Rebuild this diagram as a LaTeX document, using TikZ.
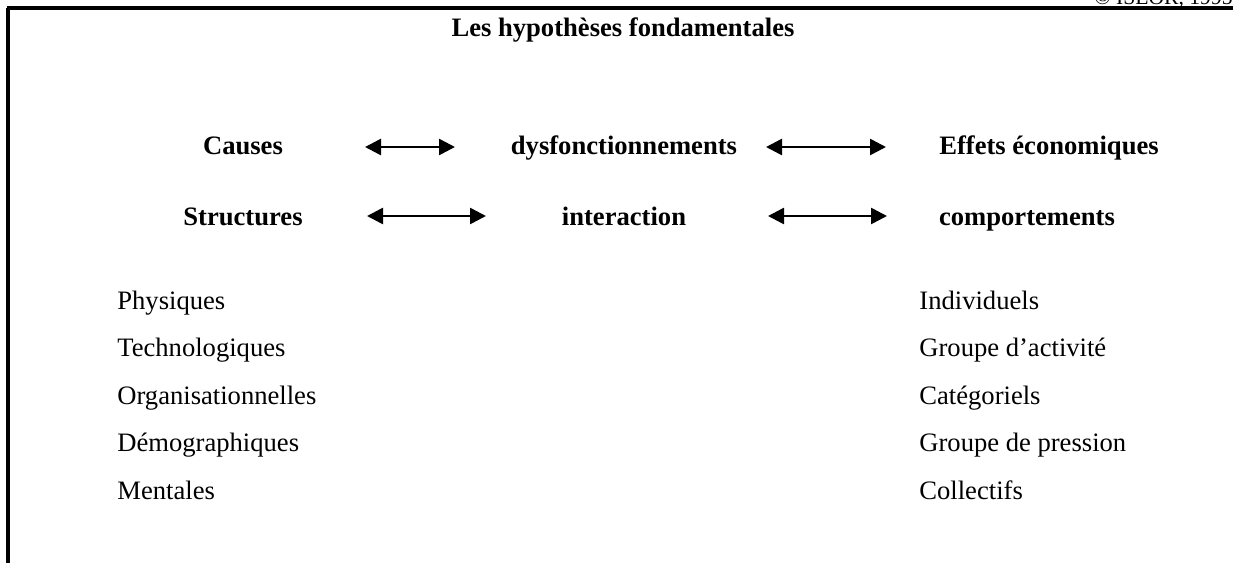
\documentclass[tikz,border=0pt]{standalone}
\usepackage{fontspec}
\setmainfont{Liberation Serif}
\usetikzlibrary{arrows.meta}

\begin{document}
\begin{tikzpicture}[
		x=0.5pt, y=-0.5pt,
		>={Triangle[length=8pt,width=8pt]},
		link/.style={line width=1.3pt,<->},
		head/.style={font=\fontsize{13.3}{16}\selectfont\bfseries, inner sep=0pt, anchor=base},
		item/.style={font=\fontsize{13.3}{16}\selectfont, inner sep=0pt, anchor=base west},
		frame/.style={line width=1.6pt}
	]
		\useasboundingbox (0,0) rectangle (1233,563);

		%frame
		\draw[frame] (7,8) -- (1233,8);
		\draw[frame] (8,8) -- (8,563);
		\node[font=\fontsize{10.8}{13}\selectfont, inner sep=0pt, anchor=base east] (copy) at (1233,4.5) {© ISEOR, 1995};

		%title
		\node[head] (title) at (623,36) {Les hypothèses fondamentales};

		% first row
		\node[head] (causes) at (243,154) {Causes};
		\node[head] (dysf) at (624,154) {dysfonctionnements};
		\node[head] (effets) at (1049,154) {Effets économiques};
		\coordinate (r1a) at (365,147);
		\coordinate (r1b) at (455,147);
		\coordinate (r1c) at (766,147);
		\coordinate (r1d) at (886,147);
		\draw[link] (r1a) -- (r1b);
		\draw[link] (r1c) -- (r1d);

		% second row
		\node[head] (struct) at (243,225) {Structures};
		\node[head] (inter) at (624,225) {interaction};
		\node[head] (comport) at (1027,225) {comportements};
		\coordinate (r2a) at (367,216);
		\coordinate (r2b) at (486,216);
		\coordinate (r2c) at (768,216);
		\coordinate (r2d) at (887,216);
		\draw[link] (r2a) -- (r2b);
		\draw[link] (r2c) -- (r2d);

		%lists
		\foreach \txt [count=\i] in {Physiques,Technologiques,Organisationnelles,Démographiques,Mentales}
			\node[item] (left\i) at (117, 309+47.5*\i-47.5) {\txt};
		\foreach \txt [count=\i] in {Individuels,Groupe d’activité,Catégoriels,Groupe de pression,Collectifs}
			\node[item] (right\i) at (919, 309+47.5*\i-47.5) {\txt};
	\end{tikzpicture}
\end{document}
